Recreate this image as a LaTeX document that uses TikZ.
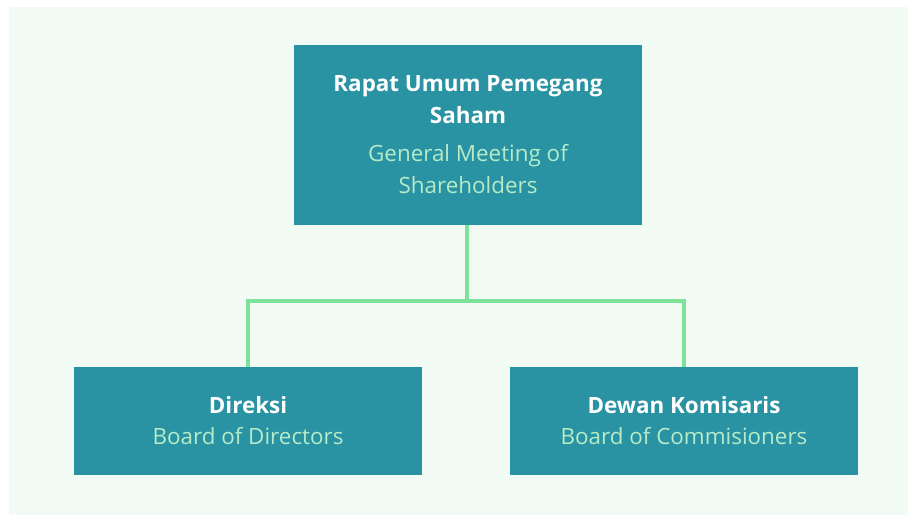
\documentclass[tikz,border=0pt]{standalone}
\usepackage{fontspec}
\setmainfont{Open Sans}
\definecolor{bgpanel}{HTML}{F1FBF3}
\definecolor{boxfill}{HTML}{2993A3}
\definecolor{subtxt}{HTML}{B5EBC8}
\definecolor{connc}{HTML}{7EE39A}
\newcommand\orgttl[1]{{\bfseries\color{white}#1}}
\newcommand\orgsub[1]{{\color{subtxt}#1}}
\begin{document}
\begin{tikzpicture}[x=0.75pt,y=-0.75pt,
  orgbox/.style={fill=boxfill,draw=none,inner sep=0pt,align=center,
    font=\fontsize{16.8}{24}\selectfont},
  conn/.style={draw=connc,line width=2.3pt}]
\useasboundingbox (0,0) rectangle (908,515);
\fill[white] (0,0) rectangle (908,515);
\fill[bgpanel] (9,7) rectangle (908,515);
\node[orgbox,minimum width=261pt,minimum height=135pt] (top) at (468,135)
  {\orgttl{Rapat Umum Pemegang}\\\orgttl{Saham}\\[4.5pt]\orgsub{General Meeting of}\\\orgsub{Shareholders}};
\node[orgbox,minimum width=261pt,minimum height=81pt] (dir) at (248,421)
  {\orgttl{Direksi}\\[-0.75pt]\orgsub{Board of Directors}};
\node[orgbox,minimum width=261pt,minimum height=81pt] (dew) at (684,421)
  {\orgttl{Dewan Komisaris}\\[-0.75pt]\orgsub{Board of Commisioners}};
\coordinate (j) at (467,301);
\draw[conn] (top.south -| j) -- (j);
\draw[conn] (j) -| (dir.north);
\draw[conn] (j) -| (dew.north);
\end{tikzpicture}
\end{document}
